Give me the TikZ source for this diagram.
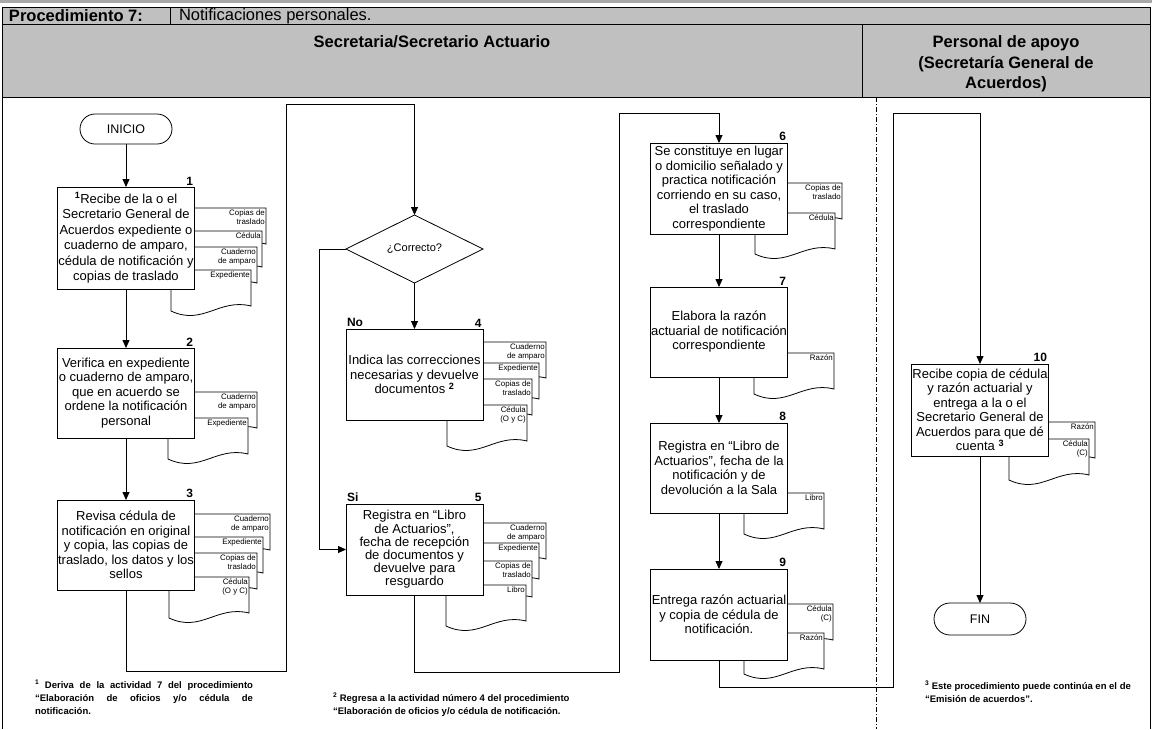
\documentclass[tikz,border=0pt]{standalone}
\usepackage{fontspec}
\setmainfont{Liberation Sans}
\usetikzlibrary{arrows.meta,shapes.geometric,calc}
\definecolor{hdr}{HTML}{C0C0C0}
\definecolor{topbar}{HTML}{A8A8A8}
\tikzset{
  every node/.style={inner sep=0pt, outer sep=0pt},
  box/.style={draw, line width=0.8pt, fill=white, align=center, minimum width=137pt,
    font=\fontsize{13}{14.5}\selectfont},
  term/.style={draw, line width=0.8pt, fill=white, rounded corners=15pt, minimum width=92pt,
    minimum height=30pt, font=\fontsize{12.5}{14}\selectfont},
  decis/.style={draw, line width=0.8pt, fill=white, diamond, minimum width=137pt,
    minimum height=68pt, font=\fontsize{11}{13}\selectfont},
  doclabel/.style={align=right, font=\fontsize{7.9}{8.3}\selectfont},
  docpath/.style={draw, line width=0.8pt, fill=white},
  num/.style={font=\bfseries\fontsize{12}{14}\selectfont},
  conn/.style={line width=0.8pt},
  arr/.style={line width=0.8pt, -{Triangle[length=8pt,width=7pt]}},
  hdrline/.style={line width=0.9pt},
  fn/.style={font=\bfseries\fontsize{9.5}{13}\selectfont},
}
\newcommand{\docu}[4]{%
  \path[docpath] (#2-80,#3) -- (#2,#3) -- (#2,#3+36)
    .. controls (#2-32,#3+28) and (#2-48,#3+56) .. (#2-80,#3+41) -- cycle;
  \node[doclabel, anchor=north east] (#1) at (#2-1.2,#3+2) {#4};
}
\begin{document}
\begin{tikzpicture}[x=1pt,y=-1pt]
\useasboundingbox (0,0) rectangle (1152,729);
% header
\fill[topbar] (0,0) rectangle (1152,3);
\fill[hdr] (2,7) rectangle (1150,97);
\draw[hdrline] (2,7) -- (1150,7);
\draw[hdrline] (2,24) -- (1150,24);
\draw[hdrline] (2,97) -- (1150,97);
\draw[hdrline] (2,7) -- (2,729);
\draw[hdrline] (1150,7) -- (1150,729);
\draw[hdrline] (170,7) -- (170,24);
\draw[hdrline] (862,24) -- (862,97);
\draw[line width=0.8pt, dash pattern=on 5pt off 2pt on 1pt off 2pt] (876,97) -- (876,729);
\node[anchor=west, font=\bfseries\fontsize{16.5}{18}\selectfont] (proc) at (9,16) {Procedimiento 7:};
\node[anchor=west, font=\fontsize{16.5}{18}\selectfont] (ptitle) at (179,16) {Notificaciones personales.};
\node[anchor=north, font=\bfseries\fontsize{16.5}{18}\selectfont] (lane1) at (432,36) {Secretaria/Secretario Actuario};
\node[anchor=north, align=center, font=\bfseries\fontsize{16.5}{20.5}\selectfont] (lane2) at (1006,36) {Personal de apoyo\\(Secretaría General de\\Acuerdos)};

% document stacks
\docu{d1a}{266}{208}{Copias de\\traslado}
\docu{d1b}{262}{231}{Cédula}
\docu{d1c}{257}{247}{Cuaderno\\de amparo}
\docu{d1d}{251}{270}{Expediente}

\docu{d2a}{257}{392}{Cuaderno\\de amparo}
\docu{d2b}{248}{418}{Expediente}

\docu{d3a}{270}{514}{Cuaderno\\de amparo}
\docu{d3b}{263}{537}{Expediente}
\docu{d3c}{257}{553}{Copias de\\traslado}
\docu{d3d}{249}{577}{Cédula\\(O y C)}

\docu{d4a}{546}{342}{Cuaderno\\de amparo}
\docu{d4b}{539}{363}{Expediente}
\docu{d4c}{532}{379}{Copias de\\traslado}
\docu{d4d}{527}{405}{Cédula\\(O y C)}

\docu{d5a}{546}{523}{Cuaderno\\de amparo}
\docu{d5b}{539}{543}{Expediente}
\docu{d5c}{532}{561}{Copias de\\traslado}
\docu{d5d}{526}{585}{Libro}

\docu{d6a}{842}{183}{Copias de\\traslado}
\docu{d6b}{835}{213}{Cédula}

\docu{d7a}{834}{353}{Razón}

\docu{d8a}{824}{493}{Libro}

\docu{d9a}{833}{604}{Cédula\\(C)}
\docu{d9b}{824}{633}{Razón}

\docu{d10a}{1095}{422}{Razón}
\docu{d10b}{1089}{439}{Cédula\\(C)}

% nodes
\node[term] (inicio) at (126,129) {INICIO};
\node[box, minimum height=102pt, font=\fontsize{13}{15.5}\selectfont] (b1) at (126,238)
  {\textsuperscript{\bfseries 1}Recibe de la o el\\Secretario General de\\Acuerdos expediente o\\cuaderno de amparo,\\cédula de notificación y\\copias de traslado};
\node[box, minimum height=90pt] (b2) at (126,393)
  {Verifica en expediente\\o cuaderno de amparo,\\que en acuerdo se\\ordene la notificación\\personal};
\node[box, minimum height=90pt] (b3) at (126,545)
  {Revisa cédula de\\notificación en original\\y copia, las copias de\\traslado, los datos y los\\sellos};
\node[decis] (dec) at (414.5,249) {¿Correcto?};
\node[box, minimum height=91pt] (b4) at (414.5,374.5)
  {Indica las correcciones\\necesarias y devuelve\\documentos \textsuperscript{\bfseries 2}};
\node[box, minimum height=91pt, font=\fontsize{13}{13.2}\selectfont] (b5) at (414.5,549.5)
  {Registra en “Libro\\de Actuarios”,\\fecha de recepción\\de documentos y\\devuelve para\\resguardo};
\node[box, minimum height=91pt] (b6) at (719,188.5)
  {Se constituye en lugar\\o domicilio señalado y\\practica notificación\\corriendo en su caso,\\el traslado\\correspondiente};
\node[box, minimum height=90pt] (b7) at (719,332)
  {Elabora la razón\\actuarial de notificación\\correspondiente};
\node[box, minimum height=90pt] (b8) at (719,468)
  {Registra en “Libro de\\Actuarios”, fecha de la\\notificación y de\\devolución a la Sala};
\node[box, minimum height=91pt] (b9) at (719,614.5)
  {Entrega razón actuarial\\y copia de cédula de\\notificación.};
\node[box, minimum height=92pt] (b10) at (980,410)
  {Recibe copia de cédula\\y razón actuarial y\\entrega a la o el\\Secretario General de\\Acuerdos para que dé\\cuenta \textsuperscript{\bfseries 3}};
\node[term, minimum height=32pt, rounded corners=16pt] (fin) at (980,619) {FIN};

% numbers
\node[num, anchor=south east] (n1) at ($(b1.north east)+(-1.5,-2)$) {1};
\node[num, anchor=south east] (n2) at ($(b2.north east)+(-1.5,-2)$) {2};
\node[num, anchor=south east] (n3) at ($(b3.north east)+(-1.5,-2)$) {3};
\node[num, anchor=south east] (n4) at ($(b4.north east)+(-1.5,-2)$) {4};
\node[num, anchor=south west] (no) at ($(b4.north west)+(1,-2)$) {No};
\node[num, anchor=south east] (n5) at ($(b5.north east)+(-1.5,-2)$) {5};
\node[num, anchor=south west] (si) at ($(b5.north west)+(1,-2)$) {Si};
\node[num, anchor=south east] (n6) at ($(b6.north east)+(-1.5,-2)$) {6};
\node[num, anchor=south east] (n7) at ($(b7.north east)+(-1.5,-2)$) {7};
\node[num, anchor=south east] (n8) at ($(b8.north east)+(-1.5,-2)$) {8};
\node[num, anchor=south east] (n9) at ($(b9.north east)+(-1.5,-2)$) {9};
\node[num, anchor=south east] (n10) at ($(b10.north east)+(-1.5,-2)$) {10};

% connectors
\coordinate (p3a) at (286,671);
\coordinate (p3b) at (286,104);
\coordinate (pl) at (319,549.5);
\coordinate (p5a) at (619,672);
\coordinate (p5b) at (619,113);
\coordinate (p9a) at (893,687);
\coordinate (p9b) at (893,113);
\draw[arr] (inicio) -- (b1);
\draw[arr] (b1) -- (b2);
\draw[arr] (b2) -- (b3);
\draw[arr] (b3.south) |- (p3a) -- (p3b) -| (dec.north);
\draw[arr] (dec) -- (b4);
\draw[arr] (dec.west) -| (pl) -- (b5.west);
\draw[arr] (b5.south) |- (p5a) -- (p5b) -| (b6.north);
\draw[arr] (b6) -- (b7);
\draw[arr] (b7) -- (b8);
\draw[arr] (b8) -- (b9);
\draw[arr] (b9.south) |- (p9a) -- (p9b) -| (b10.north);
\draw[arr] (b10) -- (fin);

% footnotes
\node[fn, anchor=north west, text width=218pt, align=justify] (f1) at (35,680)
  {\textsuperscript{1} Deriva de la actividad 7 del procedimiento\linebreak “Elaboración de oficios y/o cédula de\linebreak notificación.};
\node[fn, anchor=north west, align=left] (f2) at (333,693)
  {\textsuperscript{2} Regresa a la actividad número 4 del procedimiento\\“Elaboración de oficios y/o cédula de notificación.};
\node[fn, anchor=north west, align=left] (f3) at (925,681)
  {\textsuperscript{3} Este procedimiento puede continúa en el de\\“Emisión de acuerdos”.};
\end{tikzpicture}
\end{document}
